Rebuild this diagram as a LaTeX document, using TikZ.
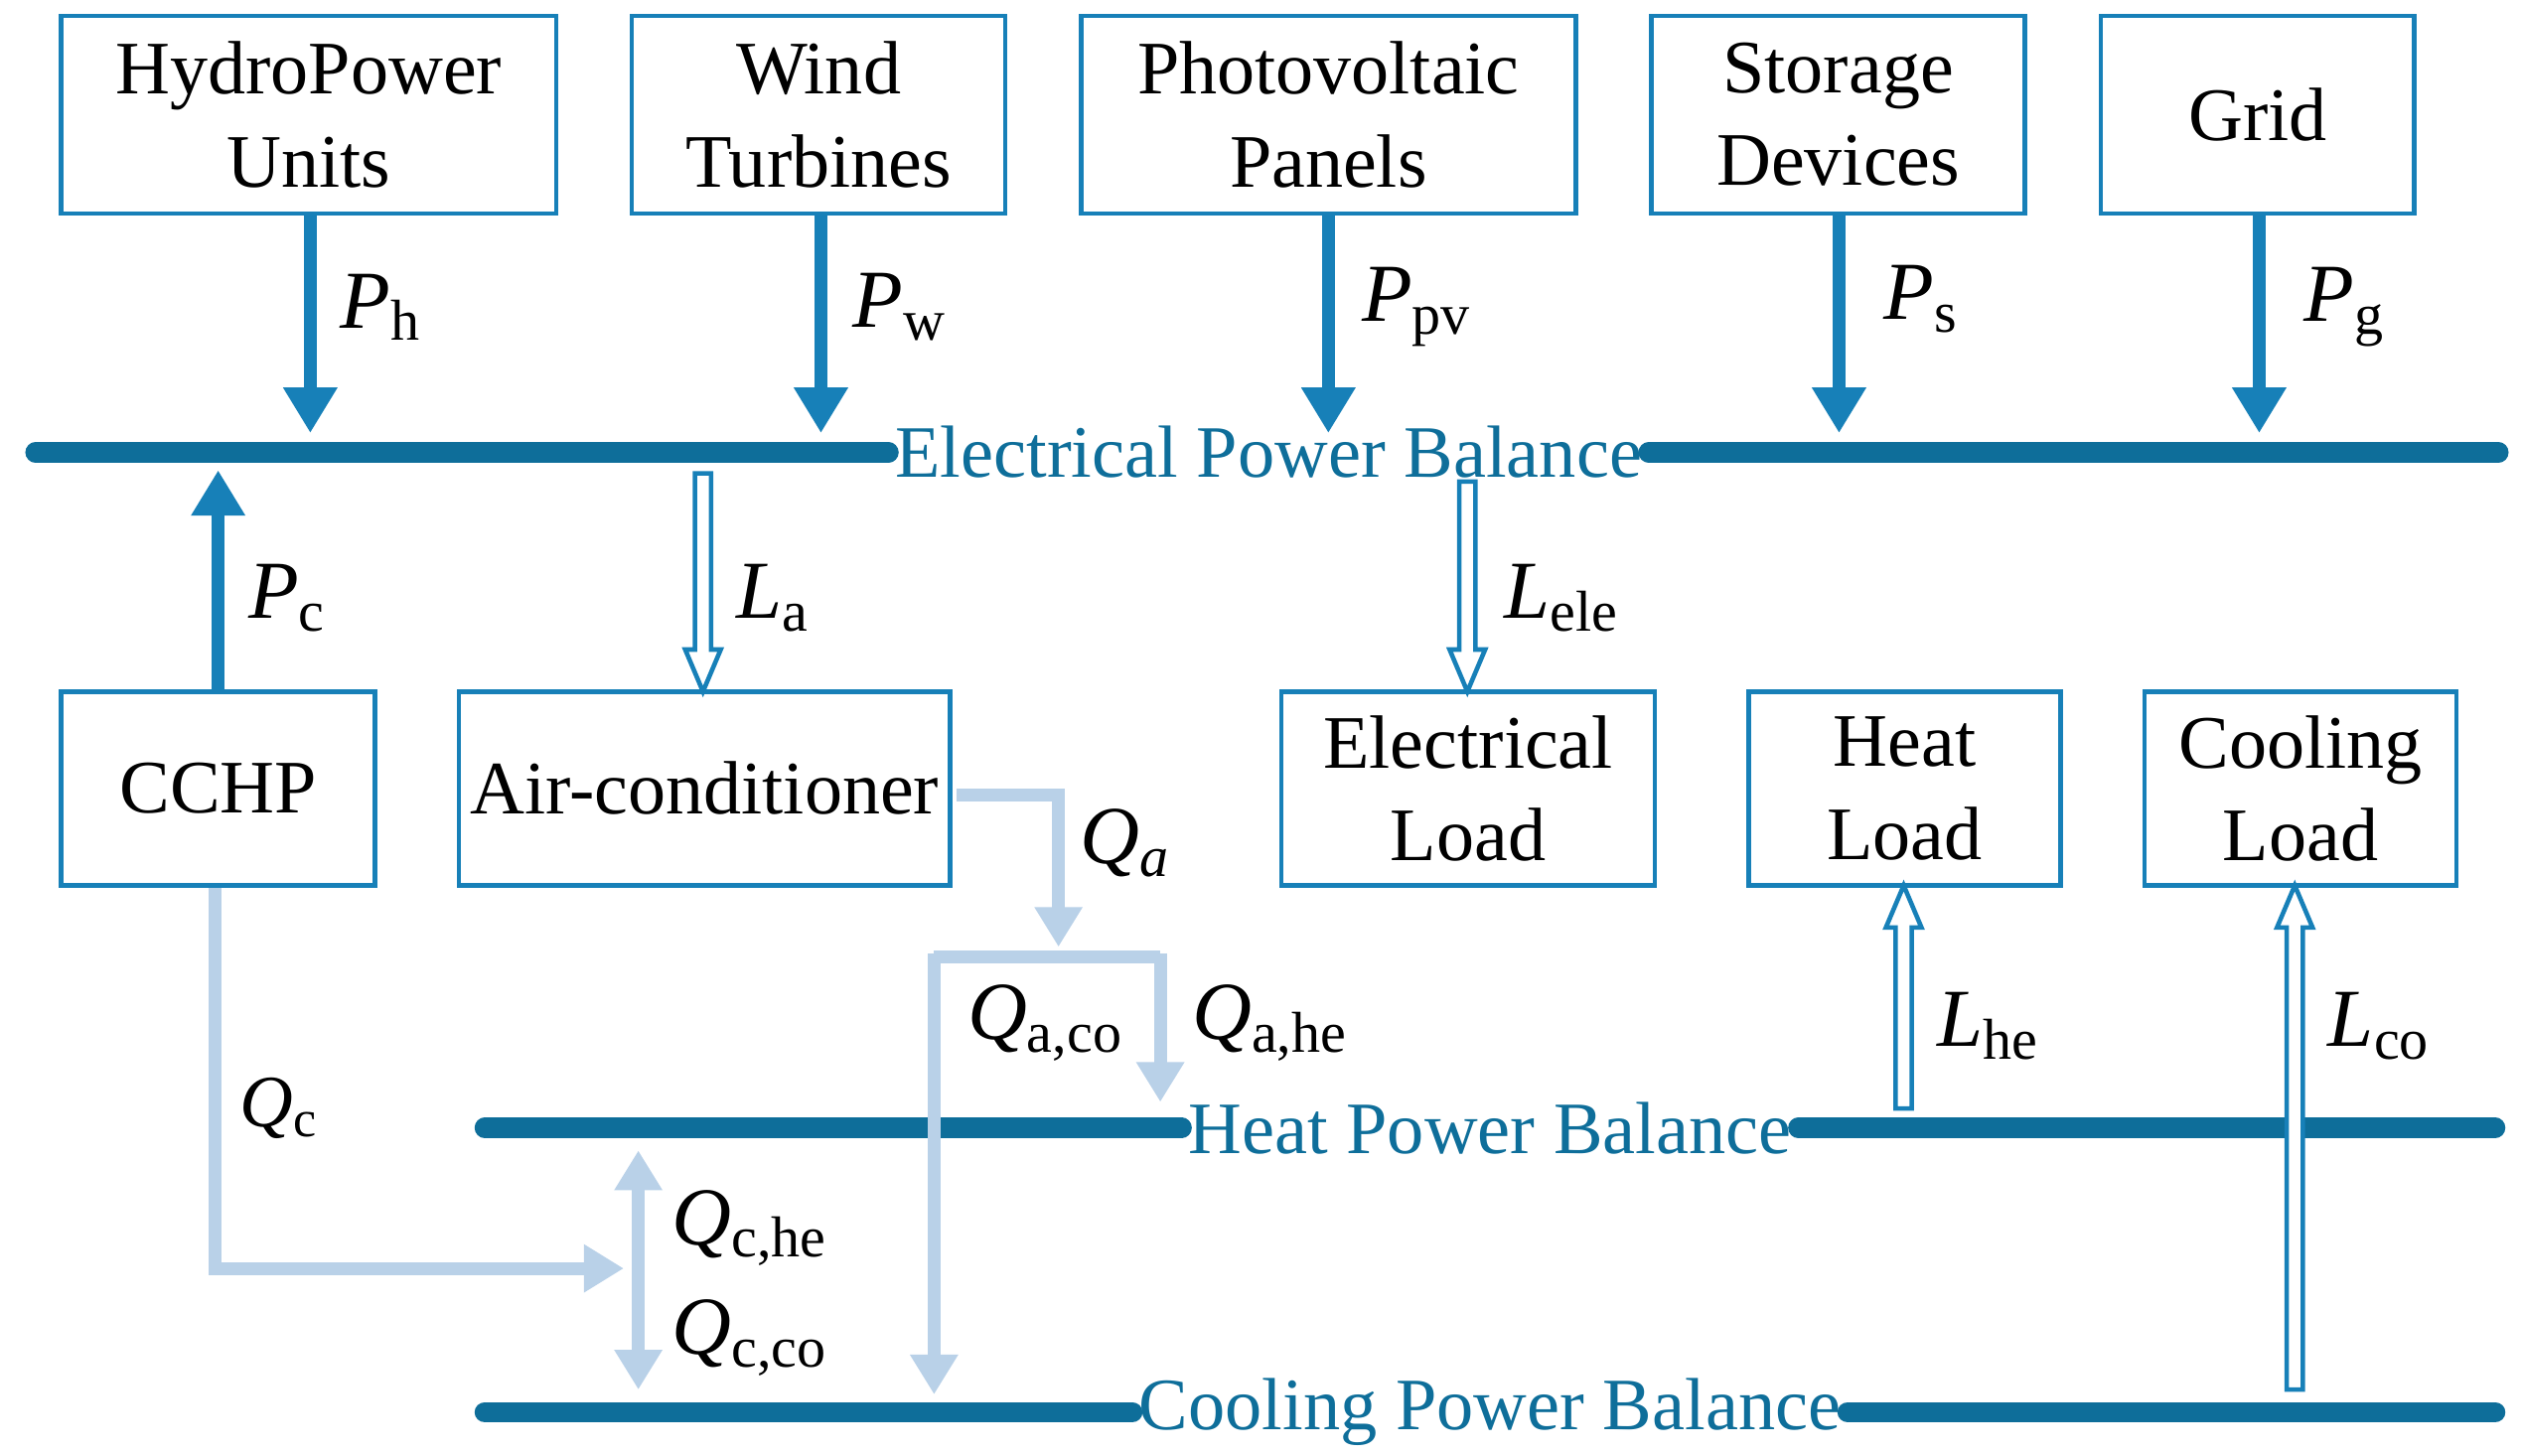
\documentclass[tikz,border=0pt]{standalone}
\usepackage{fontspec}
\setmainfont{Liberation Serif}
\usetikzlibrary{arrows.meta}
\definecolor{bus}{HTML}{0E6E9A}
\definecolor{arr}{HTML}{1780B8}
\definecolor{lb}{HTML}{B9D1E8}
\newcommand\hollowar[3]{% x, ytail, ytip
  \pgfmathsetmacro\hs{(#3>#2)?1:-1}
  \pgfmathsetmacro\yb{#3-\hs*26}
  \draw[arr,line width=0.8pt,fill=white] (#1-5,#2)--(#1+5,#2)--(#1+5,\yb)--(#1+11,\yb)--(#1,#3)--(#1-11,\yb)--(#1-5,\yb)--cycle;}
\newcommand\lab[1]{\textit{#1}}
\begin{document}
\begin{tikzpicture}[x=0.01cm,y=-0.01cm,
  box/.style={draw=arr,line width=0.8pt,align=center,inner sep=0pt,font=\fontsize{13.3}{16.3}\selectfont,text=black},
  busl/.style={line width=3.6pt,bus,line cap=round},
  btxt/.style={text=bus,font=\fontsize{13}{16}\selectfont,inner sep=1pt},
  fa/.style={arr,line width=2.2pt,-{Triangle[length=8pt,width=9pt]}},
  la/.style={lb,line width=2.3pt,-{Triangle[length=7pt,width=8pt]}},
  ml/.style={font=\fontsize{14.5}{17}\selectfont,anchor=west,inner sep=0pt}]
\useasboundingbox (0,0) rectangle (1560,901);
% top boxes
\node[box,minimum width=3.06cm,minimum height=1.22cm] (hp) at (191,71) {HydroPower\\Units};
\node[box,minimum width=2.31cm,minimum height=1.22cm] (wt) at (506.5,71) {Wind\\Turbines};
\node[box,minimum width=3.06cm,minimum height=1.22cm] (pv) at (822,71) {Photovoltaic\\Panels};
\node[box,minimum width=2.31cm,minimum height=1.22cm] (sd) at (1137.5,71) {Storage\\Devices};
\node[box,minimum width=1.94cm,minimum height=1.22cm] (gr) at (1397,71) {Grid};
% bottom boxes
\node[box,minimum width=1.94cm,minimum height=1.2cm] (cc) at (135,488) {CCHP};
\node[box,minimum width=3.04cm,minimum height=1.2cm] (ac) at (436,488) {Air-conditioner};
\node[box,minimum width=2.31cm,minimum height=1.2cm] (el) at (908.5,488) {Electrical\\Load};
\node[box,minimum width=1.93cm,minimum height=1.2cm] (hl) at (1178.5,488) {Heat\\Load};
\node[box,minimum width=1.93cm,minimum height=1.2cm] (cl) at (1423.5,488) {Cooling\\Load};
% buses
\node[btxt] (eb) at (785,280) {Electrical Power Balance};
\draw[busl] (22,280) -- (eb.west); \draw[busl] (eb.east) -- (1546,280);
\node[btxt] (hb) at (922,698) {Heat Power Balance};
\draw[busl] (300,698) -- (hb.west); \draw[busl] (hb.east) -- (1544,698);
\node[btxt] (cb) at (922,874) {Cooling Power Balance};
\draw[busl] (300,874) -- (cb.west); \draw[busl] (cb.east) -- (1544,874);
% supply arrows
\coordinate (t1) at (192,268); \coordinate (t2) at (508,268); \coordinate (t3) at (822,268);
\coordinate (t4) at (1138,268); \coordinate (t5) at (1398,268);
\draw[fa] (hp.south-|t1) -- (t1); \draw[fa] (wt.south-|t2) -- (t2); \draw[fa] (pv.south-|t3) -- (t3);
\draw[fa] (sd.south-|t4) -- (t4); \draw[fa] (gr.south-|t5) -- (t5);
\node[ml] at (210,190) {\lab{P}\textsubscript{h}};
\node[ml] at (527,190) {\lab{P}\textsubscript{w}};
\node[ml] at (842,190) {\lab{P}\textsubscript{pv}};
\node[ml] at (1165,185) {\lab{P}\textsubscript{s}};
\node[ml] at (1425,190) {\lab{P}\textsubscript{g}};
\coordinate (pc) at (135,291);
\draw[fa] (cc.north) -- (pc);
\node[ml] at (153,370) {\lab{P}\textsubscript{c}};
% hollow arrows
\hollowar{435}{293}{428}
\hollowar{908}{298}{428}
\hollowar{1178}{686}{548}
\hollowar{1420}{860}{548}
\node[ml] at (455,370) {\lab{L}\textsubscript{a}};
\node[ml] at (930,370) {\lab{L}\textsubscript{ele}};
\node[ml] at (1198,635) {\lab{L}\textsubscript{he}};
\node[ml] at (1440,635) {\lab{L}\textsubscript{co}};
% heat/cool flows
\coordinate (a1) at (655,586);
\draw[la] (592,492) -- (655,492) -- (a1);
\coordinate (a2) at (718,682); \coordinate (a3) at (578,863);
\draw[lb,line width=2.3pt] (578,592) -- (718,592);
\draw[la] (718,590) -- (a2);
\draw[la] (578,590) -- (a3);
\coordinate (c1) at (386,785);
\draw[la] (cc.south-|133,0) -- (133,785) -- (c1);
\coordinate (d1) at (395,712); \coordinate (d2) at (395,860);
\draw[lb,line width=2.3pt,{Triangle[length=7pt,width=8pt]}-{Triangle[length=7pt,width=8pt]}] (d1) -- (d2);
\node[ml] at (668,522) {\lab{Q\textsubscript{a}}};
\node[ml] at (598,633) {\lab{Q}\textsubscript{a,co}};
\node[ml] at (737,633) {\lab{Q}\textsubscript{a,he}};
\node[ml,font=\fontsize{13}{15}\selectfont] at (148,686) {\lab{Q}\textsubscript{c}};
\node[ml] at (415,760) {\lab{Q}\textsubscript{c,he}};
\node[ml] at (415,828) {\lab{Q}\textsubscript{c,co}};
\end{tikzpicture}
\end{document}
